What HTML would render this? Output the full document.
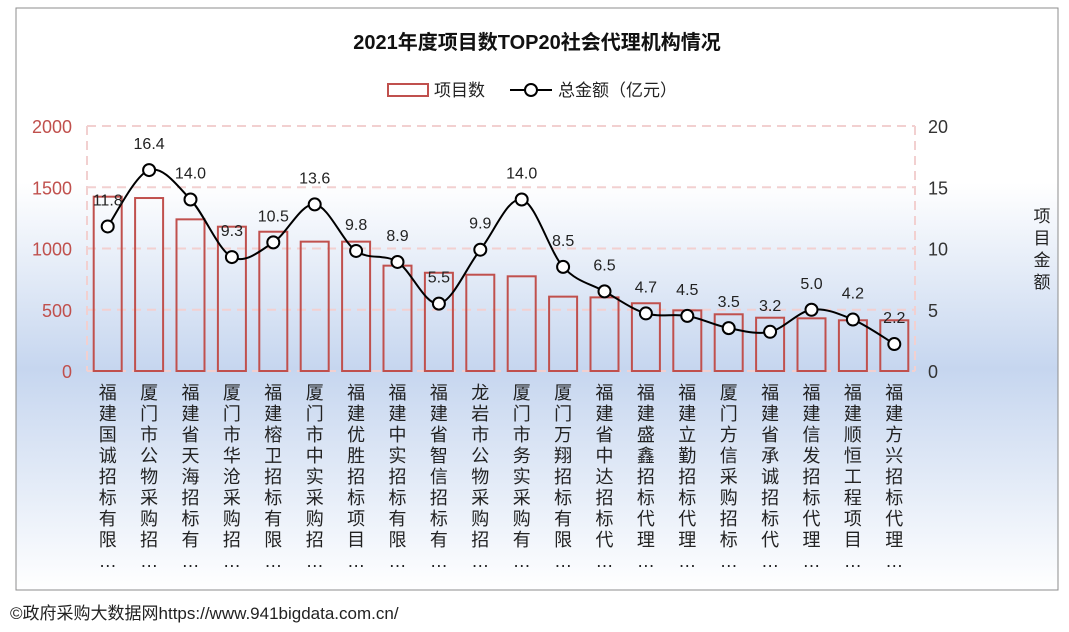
<!DOCTYPE html>
<html><head><meta charset="utf-8"><style>
html,body{margin:0;padding:0;background:#fff;}
body{width:1069px;height:627px;overflow:hidden;font-family:"Liberation Sans","Noto Sans CJK SC",sans-serif;}
</style></head><body>
<svg id="chart" width="1069" height="627" xmlns="http://www.w3.org/2000/svg" font-family="Liberation Sans, Noto Sans CJK SC, sans-serif">
<defs><linearGradient id="bg" x1="0" y1="0" x2="0" y2="1">
<stop offset="0" stop-color="#ffffff"/><stop offset="0.3" stop-color="#ffffff"/><stop offset="0.62" stop-color="#c6d6ef"/><stop offset="1" stop-color="#ffffff"/></linearGradient></defs>
<rect x="16" y="8" width="1042" height="582" fill="url(#bg)" stroke="#8c8c8c" stroke-width="1"/>
<text x="537" y="49" text-anchor="middle" font-size="20" font-weight="bold" fill="#111">2021年度项目数TOP20社会代理机构情况</text>
<g>
<rect x="388" y="84" width="40" height="12" fill="none" stroke="#c0504d" stroke-width="2"/>
<text x="434" y="96" font-size="17" fill="#222">项目数</text>
<line x1="510" y1="90" x2="552" y2="90" stroke="#000" stroke-width="2"/>
<circle cx="531" cy="90" r="6" fill="#fff" stroke="#000" stroke-width="2"/>
<text x="558" y="96" font-size="17" fill="#222">总金额（亿元）</text>
</g>
<g id="grid"></g><g id="bars"></g><g id="line"></g><g id="axes"></g>
<text font-size="17" fill="#222" text-anchor="middle"><tspan x="1042" y="222">项</tspan><tspan x="1042" y="244">目</tspan><tspan x="1042" y="266">金</tspan><tspan x="1042" y="288">额</tspan></text>
<text x="10" y="619" font-size="17" fill="#222">©政府采购大数据网https://www.941bigdata.com.cn/</text>
</svg>
<script>
const categories=["福建国诚招标有限…","厦门市公物采购招…","福建省天海招标有…","厦门市华沧采购招…","福建榕卫招标有限…","厦门市中实采购招…","福建优胜招标项目…","福建中实招标有限…","福建省智信招标有…","龙岩市公物采购招…","厦门市务实采购有…","厦门万翔招标有限…","福建省中达招标代…","福建盛鑫招标代理…","福建立勤招标代理…","厦门方信采购招标…","福建省承诚招标代…","福建信发招标代理…","福建顺恒工程项目…","福建方兴招标代理…"];
const projectCounts=[1423,1412,1238,1178,1137,1056,1056,860,802,786,773,607,601,553,495,463,435,430,414,414];
const amounts=[11.8,16.4,14.0,9.3,10.5,13.6,9.8,8.9,5.5,9.9,14.0,8.5,6.5,4.7,4.5,3.5,3.2,5.0,4.2,2.2];
const leftTicks=[0,500,1000,1500,2000];
const rightTicks=[0,5,10,15,20];
const NS="http://www.w3.org/2000/svg";
const L=87,R=915,T=126,B=371;
const bw=(R-L)/categories.length;
const xC=i=>L+bw*(i+0.5);
const yL=v=>B-(v/2000)*(B-T);
const yR=v=>B-(v/20)*(B-T);
function mk(tag,attrs,parent){const e=document.createElementNS(NS,tag);for(const k in attrs)e.setAttribute(k,attrs[k]);parent.appendChild(e);return e;}
const grid=document.getElementById('grid'),bars=document.getElementById('bars'),line=document.getElementById('line'),axes=document.getElementById('axes');
leftTicks.forEach((t,i)=>{
 const g=mk('line',{x1:L,x2:R,y1:yL(t),y2:yL(t),stroke:'#f2d0d0','stroke-width':2,'stroke-dasharray':'9,6'},grid);
 
 
 const tl=mk('text',{x:72,y:yL(t)+7,'text-anchor':'end','font-size':18,fill:'#c0504d'},axes);tl.textContent=t;
 
 
});
rightTicks.forEach(t=>{
 const tl=mk('text',{x:928,y:yR(t)+7,'font-size':18,fill:'#333'},axes);tl.textContent=t;
 
 
});
[L,R].forEach(x=>{const v=mk('line',{x1:x,x2:x,y1:T,y2:B,stroke:'#f2d0d0','stroke-width':2,'stroke-dasharray':'9,6'},grid);
 
 });
categories.forEach((c,i)=>{
 const r=mk('rect',{x:xC(i)-14,y:yL(projectCounts[i]),width:28,height:B-yL(projectCounts[i]),fill:'none',stroke:'#c0504d','stroke-width':2},bars);
 
 
 const t=mk('text',{'font-size':18,fill:'#222','text-anchor':'middle'},axes);
 
 
 [...c].forEach((ch,k)=>{const s=mk('tspan',{x:xC(i),y:399+k*21},t);s.textContent=ch;});
});
const pts=amounts.map((v,i)=>[xC(i),yR(v)]);
let d='M'+pts[0][0]+','+pts[0][1];
for(let i=0;i<pts.length-1;i++){
 const p0=pts[Math.max(0,i-1)],p1=pts[i],p2=pts[i+1],p3=pts[Math.min(pts.length-1,i+2)];
 const c1=[p1[0]+(p2[0]-p0[0])/6,p1[1]+(p2[1]-p0[1])/6],c2=[p2[0]-(p3[0]-p1[0])/6,p2[1]-(p3[1]-p1[1])/6];
 d+=` C${c1[0]},${c1[1]} ${c2[0]},${c2[1]} ${p2[0]},${p2[1]}`;
}
const path=mk('path',{d:d,fill:'none',stroke:'#000','stroke-width':2},line);


pts.forEach((p,i)=>{
 const c=mk('circle',{cx:p[0],cy:p[1],r:6,fill:'#fff',stroke:'#000','stroke-width':2},line);
 
 
 const t=mk('text',{x:p[0],y:p[1]-21,'text-anchor':'middle','font-size':16,fill:'#222'},line);
 t.textContent=amounts[i].toFixed(1);
 
 
});
</script>
</body></html>
